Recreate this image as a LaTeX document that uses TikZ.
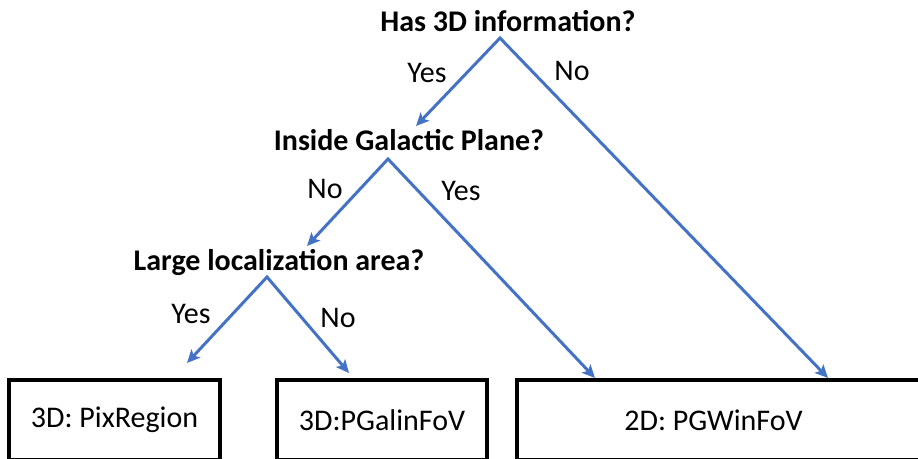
\documentclass[tikz,border=0pt]{standalone}
\usepackage{fontspec}
\setmainfont{Carlito}
\usetikzlibrary{arrows.meta, positioning}
\definecolor{branchblue}{RGB}{68,114,196}
\tikzset{
    question/.style={font=\fontsize{30}{34}\selectfont\bfseries, inner sep=0pt, anchor=base},
    answer/.style={font=\fontsize{30}{34}\selectfont, inner sep=0pt, anchor=base},
    outbox/.style={rectangle, draw=black, line width=4.5pt, inner sep=0pt,
                   minimum height=80pt, font=\fontsize{30}{34}\selectfont},
    branch/.style={draw=branchblue, line width=3pt, line join=miter,
                   {Stealth[length=13pt,width=12pt,inset=3pt]}-{Stealth[length=13pt,width=12pt,inset=3pt]}},
}

\begin{document}
\begin{tikzpicture}[x=1pt, y=-1pt]
    \useasboundingbox (0,0) rectangle (918,458);
    % questions
    \node[question] (q3d) at (508,31) {Has 3D information?};
    \node[question] (qgal) at (409,150) {Inside Galactic Plane?};
    \node[question] (qloc) at (279,270) {Large localization area?};
    \coordinate (q3dtip) at (500,38);
    \coordinate (qgaltip) at (388,159);
    \coordinate (qloctip) at (267,277);
    % outcomes
    \node[outbox, minimum width=211pt] (pix) at (114.5,420) {3D: PixRegion};
    \node[outbox, minimum width=210pt] (pgal) at (382,420) {3D:PGalinFoV};
    \node[outbox, minimum width=406pt] (pgw) at (720,420) {2D: PGWinFoV\hspace*{13pt}};
    % arrow ends
    \coordinate (galin) at (416,126);
    \coordinate (locin) at (307,246);
    \coordinate (pixin) at (187,363);
    \coordinate (pgalin) at (349,373);
    \coordinate (pgwyes) at (595,378);
    \coordinate (pgwno) at (828,378);
    % branches
    \draw[branch] (galin) -- (q3dtip) -- (pgwno);
    \draw[branch] (locin) -- (qgaltip) -- (pgwyes);
    \draw[branch] (pixin) -- (qloctip) -- (pgalin);
    % labels
    \node[answer] (y3d) at (427,82) {Yes};
    \node[answer] (n3d) at (572,80) {No};
    \node[answer] (ngal) at (325,198) {No};
    \node[answer] (ygal) at (461,200) {Yes};
    \node[answer] (yloc) at (191,323) {Yes};
    \node[answer] (nloc) at (338,327) {No};
\end{tikzpicture}
\end{document}
